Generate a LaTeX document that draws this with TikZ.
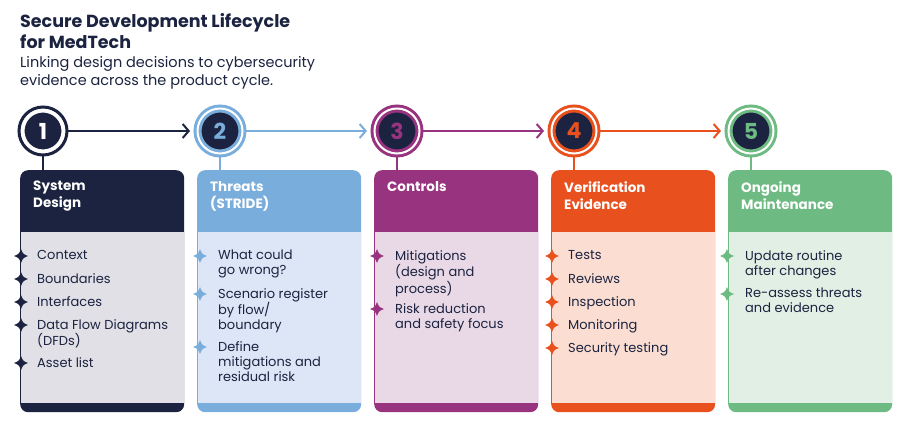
\documentclass[tikz,border=0pt]{standalone}
\usepackage{fontspec}
\setmainfont{Poppins}
\usetikzlibrary{positioning,arrows.meta}
\definecolor{navy}{HTML}{1B2340}
\definecolor{sky}{HTML}{79ADDC}
\definecolor{plum}{HTML}{98347F}
\definecolor{flame}{HTML}{E8501E}
\definecolor{leaf}{HTML}{6DBB82}
\definecolor{navyT}{HTML}{E1E0E6}
\definecolor{skyT}{HTML}{DDE6F6}
\definecolor{plumT}{HTML}{E9D9E6}
\definecolor{flameT}{HTML}{FBDED1}
\definecolor{leafT}{HTML}{E1EFE4}
\begin{document}
\begin{tikzpicture}
  [ x=1pt, y=-1pt,
    step/.style={circle, draw=#1, line width=3pt, fill=navy, minimum size=45pt,
      double=white, double distance=2pt, text=#1, font=\bfseries\fontsize{22}{22}\selectfont},
    card/.style={rectangle, rounded corners=8pt, fill=#1, minimum width=164pt,
      minimum height=242pt, anchor=north west, inner sep=0pt},
    body/.style={rectangle, fill=#1, minimum width=163pt, minimum height=171pt,
      anchor=north west, inner sep=0pt},
    head/.style={anchor=north west, align=left, text=white, inner sep=0pt,
      font=\bfseries\fontsize{13.5}{17}\selectfont},
    item/.style={anchor=north west, align=left, inner sep=0pt, text=navy,
      font=\fontsize{13}{15}\selectfont},
    link/.style={line width=2pt, #1, -{Straight Barb[length=6pt,width=14pt,line width=2pt]}},
    spark/.pic={\fill[#1] (0,-7) .. controls (2,-2) .. (7,0) .. controls (2,2) .. (0,7)
      .. controls (-2,2) .. (-7,0) .. controls (-2,-2) .. (0,-7) -- cycle;}
  ]
  \useasboundingbox (0,0) rectangle (903,427);

  % heading
  \node[anchor=north west, inner sep=0pt, align=left, text=navy,
    font=\bfseries\fontsize{17.5}{21}\selectfont] (title) at (20,13) {Secure Development Lifecycle\\for MedTech};
  \node[inner sep=0pt, align=left, text=navy,
    font=\fontsize{14.5}{18}\selectfont, below=8pt of title.south west, anchor=north west] (sub)
    {Linking design decisions to cybersecurity\\evidence across the product cycle.};

  % cards
  \node[card=navy] (card1) at (20,170) {};
  \node[card=sky] (card2) at (197,170) {};
  \node[card=plum] (card3) at (374,170) {};
  \node[card=flame] (card4) at (551,170) {};
  \node[card=leaf] (card5) at (728,170) {};
  \node[body=navyT] at (20.5,232) {};
  \node[body=skyT] at (197.5,232) {};
  \node[body=plumT] at (374.5,232) {};
  \node[body=flameT] at (551.5,232) {};
  \node[body=leafT] at (728.5,232) {};

  \node[head] at (33,181) {System\\Design};
  \node[head] at (210,181) {Threats\\(STRIDE)};
  \node[head] at (387,181) {Controls};
  \node[head] at (564,181) {Verification\\Evidence};
  \node[head] at (741,181) {Ongoing\\Maintenance};

  % steps
  \node[step=white] (n1) at (43,131) {1};
  \node[step=sky] (n2) at (220,131) {2};
  \node[step=plum] (n3) at (397,131) {3};
  \node[step=flame] (n4) at (574,131) {4};
  \node[step=leaf] (n5) at (751,131) {5};
  \draw[navy, line width=3pt] (n1) circle (24pt);

  \draw[link=navy] (n1.east) -- ([xshift=-6pt]n2.west);
  \draw[link=sky] (n2.east) -- ([xshift=-6pt]n3.west);
  \draw[link=plum] (n3.east) -- ([xshift=-6pt]n4.west);
  \draw[link=flame] (n4.east) -- ([xshift=-6pt]n5.west);
  \draw[navy, line width=2pt] (n1.south) -- (n1.south |- card1.north);
  \draw[sky, line width=2pt] (n2.south) -- (n2.south |- card2.north);
  \draw[plum, line width=2pt] (n3.south) -- (n3.south |- card3.north);
  \draw[flame, line width=2pt] (n4.south) -- (n4.south |- card4.north);
  \draw[leaf, line width=2pt] (n5.south) -- (n5.south |- card5.north);

  % items
  \node[item] (a1) at (37,250) {Context};
  \node[item] (a2) at (37,273) {Boundaries};
  \node[item] (a3) at (37,296) {Interfaces};
  \node[item] (a4) at (37,319) {Data Flow Diagrams\\(DFDs)};
  \node[item] (a5) at (37,357) {Asset list};
  \node[item] (b1) at (218,250) {What could\\go wrong?};
  \node[item] (b2) at (218,288) {Scenario register\\by flow/\\boundary};
  \node[item] (b3) at (218,341) {Define\\mitigations and\\residual risk};
  \node[item] (c1) at (395,250) {Mitigations\\(design and\\process)};
  \node[item] (c2) at (395,303) {Risk reduction\\and safety focus};
  \node[item] (d1) at (568,250) {Tests};
  \node[item] (d2) at (568,273) {Reviews};
  \node[item] (d3) at (568,296) {Inspection};
  \node[item] (d4) at (568,319) {Monitoring};
  \node[item] (d5) at (568,342) {Security testing};
  \node[item] (e1) at (745,250) {Update routine\\after changes};
  \node[item] (e2) at (745,288) {Re-assess threats\\and evidence};

  \foreach \i in {a1,a2,a3,a4,a5} \pic at ([xshift=-16pt,yshift=-6pt]\i.north west) {spark=navy};
  \foreach \i in {b1,b2,b3} \pic at ([xshift=-18pt,yshift=-6pt]\i.north west) {spark=sky};
  \foreach \i in {c1,c2} \pic at ([xshift=-18pt,yshift=-6pt]\i.north west) {spark=plum};
  \foreach \i in {d1,d2,d3,d4,d5} \pic at ([xshift=-16pt,yshift=-6pt]\i.north west) {spark=flame};
  \foreach \i in {e1,e2} \pic at ([xshift=-18pt,yshift=-6pt]\i.north west) {spark=leaf};
\end{tikzpicture}
\end{document}
